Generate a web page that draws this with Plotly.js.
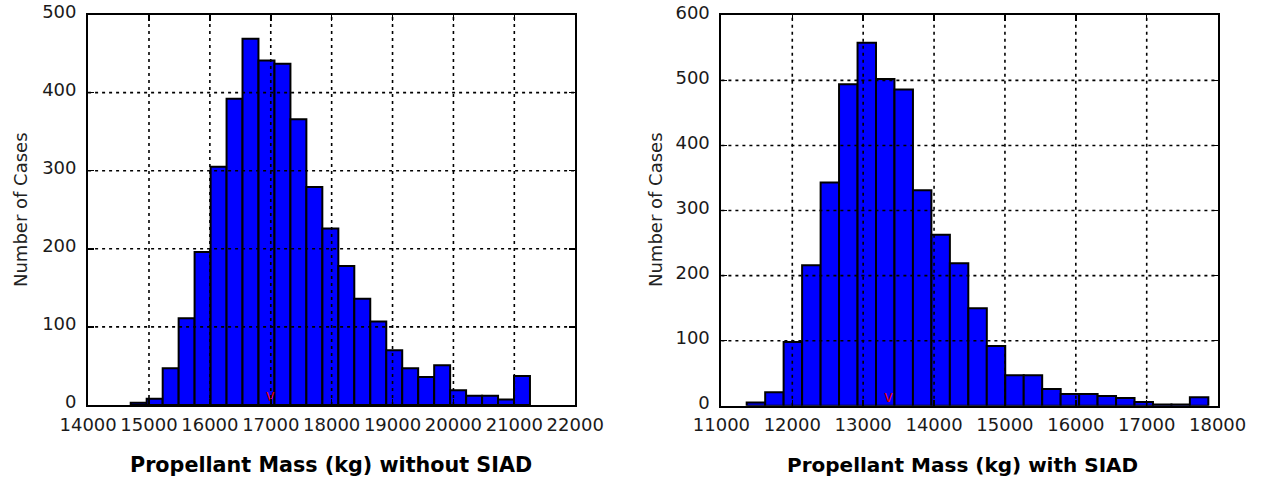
<!DOCTYPE html>
<html>
<head>
<meta charset="utf-8">
<script src="https://cdn.plot.ly/plotly-3.0.1.min.js"></script>
<style>html,body{margin:0;padding:0;background:#fff;}#chart{width:1265px;height:480px;}</style>
</head>
<body>
<div id="chart"></div>
<script>
// ---- Data: left panel (without SIAD) ----
const binCentersNoSiad = [14831, 15093, 15356, 15618, 15880, 16143, 16405, 16667, 16930, 17192, 17454, 17716, 17979, 18241, 18503, 18766, 19028, 19290, 19553, 19815, 20077, 20340, 20602, 20864, 21126];
const countsNoSiad = [3, 8, 47, 111, 196, 305, 392, 469, 441, 437, 366, 279, 226, 178, 136, 107, 70, 47, 36, 51, 19, 12, 12, 7, 37];
const binWidthNoSiad = 262;
const meanNoSiad = [16990];

// ---- Data: right panel (with SIAD) ----
const binCentersSiad = [11487, 11748, 12008, 12269, 12530, 12790, 13051, 13311, 13572, 13832, 14093, 14353, 14614, 14874, 15135, 15395, 15656, 15916, 16177, 16437, 16698, 16958, 17219, 17479, 17739];
const countsSiad = [5, 21, 98, 216, 343, 494, 558, 502, 486, 331, 263, 219, 150, 92, 47, 47, 26, 18, 18, 15, 12, 6, 2, 2, 13];
const binWidthSiad = 260.5;
const meanSiad = [13355];

// ---- Tick values / labels ----
const xTicksLeft = [14000, 15000, 16000, 17000, 18000, 19000, 20000, 21000, 22000];
const yTicksLeft = [0, 100, 200, 300, 400, 500];
const xTicksRight = [11000, 12000, 13000, 14000, 15000, 16000, 17000, 18000];
const yTicksRight = [0, 100, 200, 300, 400, 500, 600];

const titleLeft = 'Propellant Mass (kg) without SIAD';
const titleRight = 'Propellant Mass (kg) with SIAD';
const yTitle = 'Number of Cases';

const W = 1265, H = 480;
const px = v => v / W;
const py = v => 1 - v / H;

const xTickFont = {family: 'DejaVu Sans', size: 18, color: '#1a1a1a'};
const yTickFont = {family: 'DejaVu Sans', size: 18, color: '#1a1a1a'};

function barTrace(x, y, w, xa, ya) {
  return {
    type: 'bar', x: x, y: y, width: w, xaxis: xa, yaxis: ya,
    marker: {color: '#0000ff', line: {color: '#000', width: 2}},
    hoverinfo: 'skip', showlegend: false
  };
}
function meanTrace(x, xa, ya) {
  return {
    type: 'scatter', mode: 'text', x: x, y: x.map(() => 0), xaxis: xa, yaxis: ya,
    text: x.map(() => 'v'), textposition: 'top center',
    textfont: {family: 'DejaVu Sans', size: 15, color: '#e00000'},
    cliponaxis: false, hoverinfo: 'skip', showlegend: false
  };
}

const data = [
  barTrace(binCentersNoSiad, countsNoSiad, binWidthNoSiad, 'x', 'y'),
  barTrace(binCentersSiad, countsSiad, binWidthSiad, 'x2', 'y2'),
  meanTrace(meanNoSiad, 'x', 'y'),
  meanTrace(meanSiad, 'x2', 'y2')
];

function axis(domain, ticks, anchor, font) {
  return {
    domain: domain, anchor: anchor,
    range: [ticks[0], ticks[ticks.length - 1]],
    tickmode: 'array', tickvals: ticks, ticktext: ticks.map(String),
    tickangle: 0,
    showgrid: false, zeroline: false,
    showline: true, linecolor: '#000', linewidth: 2, mirror: 'ticks',
    ticks: 'inside', ticklen: 6, tickwidth: 1.5, tickcolor: '#000',
    tickfont: font, layer: 'above traces', automargin: false,
    fixedrange: true
  };
}

const shapes = [];
function grid(xTicks, yTicks, xa, ya) {
  const dash = '3px,4px';
  xTicks.slice(1, -1).forEach(v => shapes.push({
    type: 'line', xref: xa, yref: ya + ' domain', x0: v, x1: v, y0: 0, y1: 1,
    line: {color: '#000', width: 1.6, dash: dash}, layer: 'above'
  }));
  yTicks.slice(1, -1).forEach(v => shapes.push({
    type: 'line', xref: xa + ' domain', yref: ya, x0: 0, x1: 1, y0: v, y1: v,
    line: {color: '#000', width: 1.6, dash: dash}, layer: 'above'
  }));
}
grid(xTicksLeft, yTicksLeft, 'x', 'y');
grid(xTicksRight, yTicksRight, 'x2', 'y2');

const layout = {
  width: W, height: H,
  margin: {l: 0, r: 0, t: 0, b: 0, pad: 0},
  paper_bgcolor: '#fff', plot_bgcolor: '#fff',
  bargap: 0, showlegend: false,
  xaxis: Object.assign(axis([px(88.1), px(575.2)], xTicksLeft, 'y', xTickFont), {ticklabelstandoff: 2}),
  yaxis: Object.assign(axis([1 - 405 / H, 1 - 14.5 / H], yTicksLeft, 'x', yTickFont), {ticklabelstandoff: 6, ticklabelshift: -3}),
  xaxis2: Object.assign(axis([px(721.4), px(1217.6)], xTicksRight, 'y2', xTickFont), {ticklabelstandoff: 2}),
  yaxis2: Object.assign(axis([1 - 405.8 / H, 1 - 15.3 / H], yTicksRight, 'x2', yTickFont), {ticklabelstandoff: 6, ticklabelshift: -3}),
  shapes: shapes,
  annotations: [
    {text: titleLeft, xref: 'paper', yref: 'paper', x: px(331), y: py(465), xanchor: 'center', yanchor: 'middle', showarrow: false,
     font: {family: 'DejaVu Sans', size: 20.7, color: '#000', weight: 'bold'}},
    {text: titleRight, xref: 'paper', yref: 'paper', x: px(962), y: py(465), xanchor: 'center', yanchor: 'middle', showarrow: false,
     font: {family: 'DejaVu Sans', size: 20, color: '#000', weight: 'bold'}},
    {text: yTitle, xref: 'paper', yref: 'paper', x: px(20), y: py(210), xanchor: 'center', yanchor: 'middle', textangle: -90, showarrow: false,
     font: {family: 'DejaVu Sans', size: 18, color: '#222'}},
    {text: yTitle, xref: 'paper', yref: 'paper', x: px(655), y: py(210), xanchor: 'center', yanchor: 'middle', textangle: -90, showarrow: false,
     font: {family: 'DejaVu Sans', size: 18, color: '#222'}}
  ]
};

Plotly.newPlot('chart', data, layout, {displayModeBar: false, staticPlot: true});
</script>
</body>
</html>
